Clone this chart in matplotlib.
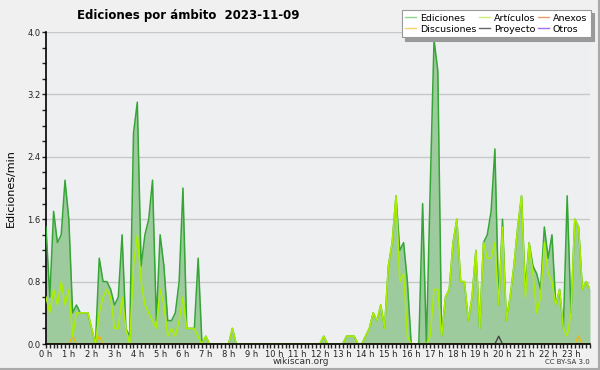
import matplotlib
matplotlib.use("Agg")
import matplotlib.pyplot as plt
from matplotlib.lines import Line2D
import numpy as np

# edits per minute, one value every 10 minutes (144 slots)
ediciones = [
    1.5, 0.6, 1.7, 1.3, 1.4, 2.1, 1.6, 0.4, 0.5, 0.4, 0.4, 0.4,
    0.2, 0.0, 1.1, 0.8, 0.8, 0.7, 0.5, 0.6, 1.4, 0.2, 0.1, 2.7,
    3.1, 1.0, 1.4, 1.6, 2.1, 0.3, 1.4, 1.0, 0.3, 0.3, 0.4, 0.8,
    2.0, 0.2, 0.2, 0.2, 1.1, 0.0, 0.1, 0.0, 0.0, 0.0, 0.0, 0.0,
    0.0, 0.2, 0.0, 0.0, 0.0, 0.0, 0.0, 0.0, 0.0, 0.0, 0.0, 0.0,
    0.0, 0.0, 0.0, 0.0, 0.0, 0.0, 0.0, 0.0, 0.0, 0.0, 0.0, 0.0,
    0.0, 0.1, 0.0, 0.0, 0.0, 0.0, 0.0, 0.1, 0.1, 0.1, 0.0, 0.0,
    0.1, 0.2, 0.4, 0.3, 0.5, 0.2, 1.0, 1.3, 1.9, 1.2, 1.3, 0.8,
    0.0, 0.0, 0.0, 1.8, 0.0, 2.0, 3.9, 3.5, 0.1, 0.6, 0.7, 1.3,
    1.6, 0.8, 0.8, 0.3, 0.6, 1.2, 0.2, 1.3, 1.4, 1.7, 2.5, 0.5,
    1.6, 0.3, 0.6, 1.0, 1.5, 1.9, 0.7, 1.3, 1.0, 0.9, 0.7, 1.5,
    1.1, 1.4, 0.5, 0.7, 0.2, 1.9, 0.4, 1.6, 1.5, 0.7, 0.8, 0.7,
]
articulos = [
    0.6, 0.4, 0.7, 0.5, 0.8, 0.5, 0.7, 0.1, 0.4, 0.4, 0.4, 0.4,
    0.2, 0.0, 0.4, 0.6, 0.7, 0.6, 0.2, 0.2, 0.6, 0.2, 0.0, 1.0,
    1.4, 0.8, 0.5, 0.4, 0.3, 0.2, 0.7, 0.5, 0.1, 0.2, 0.1, 0.3,
    0.6, 0.2, 0.2, 0.2, 0.1, 0.0, 0.1, 0.0, 0.0, 0.0, 0.0, 0.0,
    0.0, 0.2, 0.0, 0.0, 0.0, 0.0, 0.0, 0.0, 0.0, 0.0, 0.0, 0.0,
    0.0, 0.0, 0.0, 0.0, 0.0, 0.0, 0.0, 0.0, 0.0, 0.0, 0.0, 0.0,
    0.0, 0.1, 0.0, 0.0, 0.0, 0.0, 0.0, 0.1, 0.1, 0.1, 0.0, 0.0,
    0.1, 0.2, 0.4, 0.3, 0.5, 0.2, 1.0, 1.3, 1.9, 0.8, 0.9, 0.1,
    0.0, 0.0, 0.0, 0.0, 0.0, 0.1, 0.7, 0.7, 0.1, 0.6, 0.7, 1.3,
    1.6, 0.8, 0.8, 0.3, 0.6, 1.2, 0.2, 1.3, 1.1, 1.1, 1.3, 0.5,
    1.5, 0.3, 0.6, 1.0, 1.5, 1.9, 0.6, 1.3, 0.9, 0.4, 0.6, 1.3,
    0.9, 0.8, 0.5, 0.7, 0.2, 0.1, 0.4, 1.6, 1.5, 0.7, 0.8, 0.7,
]
# sparse series: slot -> value
discusiones = {7: 0.1, 14: 0.1, 140: 0.1}
proyecto = {119: 0.1}
anexos = {}
otros = {}

hour_labels = ["%d h" % h for h in range(24)]

n = len(ediciones)
x = np.arange(n) / 6.0


def from_sparse(d):
    arr = np.zeros(n)
    for k, v in d.items():
        arr[k] = v
    return arr


plt.rcParams['font.family'] = ['DejaVu Sans']

fig = plt.figure(figsize=(6, 3.7), dpi=100, facecolor='#f0f0f0')
ax = fig.add_axes([46 / 600, 26 / 370, 544 / 600, 312 / 370])
ax.set_facecolor('#eeeff1')

ax.fill_between(x, ediciones, color='#9dcb9d', lw=0, zorder=1)
ax.plot(x, from_sparse(otros), color='#9944ee', lw=1, zorder=2)
ax.plot(x, from_sparse(anexos), color='#ee7733', lw=1, zorder=2)
ax.plot(x, from_sparse(proyecto), color='#444444', lw=1, zorder=3)
ax.plot(x, from_sparse(discusiones), color='#f2b800', lw=1, zorder=3)
ax.plot(x, ediciones, color='#35a535', lw=1.1, zorder=4)
ax.plot(x, articulos, color='#aaee00', lw=1.1, zorder=5)

ax.set_xlim(0, x[-1])
ax.set_ylim(0, 4.0)
ax.set_yticks(np.arange(0, 4.01, 0.8))
ax.set_yticks(np.arange(0, 4.01, 0.2), minor=True)
ax.set_yticklabels(["%.1f" % v for v in np.arange(0, 4.01, 0.8)])
ax.set_xticks(np.arange(24))
ax.set_xticks(np.arange(0, x[-1] + 0.01, 1 / 6), minor=True)
ax.set_xticklabels(hour_labels)
ax.tick_params(axis='both', which='both', direction='out', length=3, width=1,
               labelsize=6, pad=1, colors='#222222')
ax.grid(axis='y', which='major', color='#c8c8c8', lw=1)
ax.set_axisbelow(True)
for s in ['top', 'right']:
    ax.spines[s].set_visible(False)
ax.spines['left'].set_linewidth(1.2)
ax.spines['bottom'].set_linewidth(1.2)
ax.spines['bottom'].set_zorder(6)

ax.set_ylabel("Ediciones/min", fontsize=8, labelpad=8)

fig.text(188 / 600, 1 - 15 / 370, "Ediciones por ámbito  2023-11-09",
         ha='center', va='center', fontsize=8.5, fontweight='bold')
fig.text(301 / 600, 1 - 362 / 370, "wikiscan.org", ha='center', va='center',
         fontsize=6.5, color='#333333')
fig.text(590 / 600, 1 - 362 / 370, "CC BY-SA 3.0", ha='right', va='center',
         fontsize=5, color='#333333')

handles = [
    Line2D([], [], color='#8fd48f', lw=1),
    Line2D([], [], color='#f5d36b', lw=1),
    Line2D([], [], color='#cdf07a', lw=1),
    Line2D([], [], color='#666666', lw=1),
    Line2D([], [], color='#f09a6a', lw=1),
    Line2D([], [], color='#a070f0', lw=1),
]
names = ["Ediciones", "Discusiones", "Artículos", "Proyecto", "Anexos", "Otros"]
leg = fig.legend(handles, names, ncol=3, loc='upper right',
                 bbox_to_anchor=(591 / 600, 1 - 10 / 370), fontsize=6.8,
                 frameon=True, fancybox=False,
                 shadow={'color': '#9a9a9a', 'alpha': 1, 'ox': 2.5, 'oy': -2.5},
                 handlelength=1.1, handletextpad=0.45, columnspacing=0.3,
                 labelspacing=0.2, borderpad=0.4, borderaxespad=0)
leg.get_frame().set_edgecolor('#999999')
leg.get_frame().set_linewidth(0.8)

# right / bottom border of the image
fig.add_artist(Line2D([598.5 / 600, 598.5 / 600], [1 / 370, 1], color='#aaaaaa', lw=1.5))
fig.add_artist(Line2D([0, 598.5 / 600], [1.5 / 370, 1.5 / 370], color='#aaaaaa', lw=1.5))

fig.savefig("out.png", dpi=100, facecolor=fig.get_facecolor())
